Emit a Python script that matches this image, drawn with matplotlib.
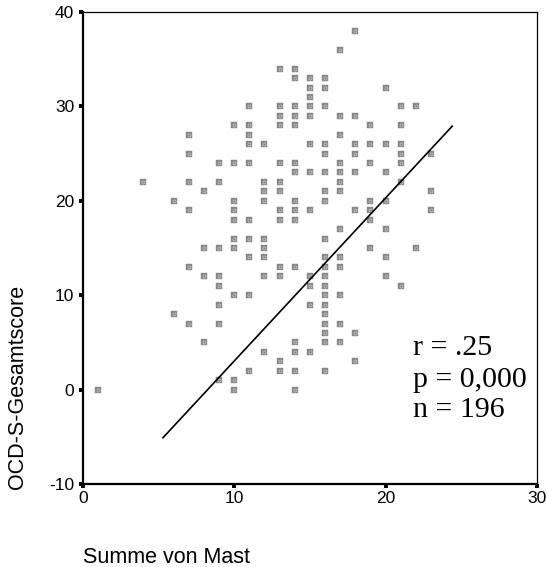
import matplotlib
matplotlib.use("Agg")
import matplotlib.pyplot as plt
import numpy as np

plt.rcParams['axes.unicode_minus'] = False

# Summe von Mast (x) and OCD-S-Gesamtscore (y)
mast = ([1] + [4] + [6]*2 + [7]*6 + [8]*4 + [9]*8 + [10]*10 + [11]*10 + [12]*9 +
        [13]*13 + [14]*15 + [15]*12 + [16]*20 + [17]*13 + [18]*8 + [19]*7 +
        [20]*7 + [21]*7 + [22]*2 + [23]*3)
ocd = ([0] +
       [22] +
       [20, 8] +
       [27, 25, 22, 19, 13, 7] +
       [21, 15, 12, 5] +
       [24, 22, 15, 12, 11, 9, 7, 1] +
       [28, 24, 20, 19, 18, 16, 15, 10, 1, 0] +
       [30, 28, 27, 26, 24, 18, 16, 14, 10, 2] +
       [26, 22, 21, 20, 16, 15, 14, 12, 4] +
       [34, 30, 29, 28, 24, 22, 21, 19, 18, 13, 12, 3, 2] +
       [34, 33, 30, 29, 28, 24, 23, 20, 19, 18, 13, 5, 4, 2, 0] +
       [33, 32, 31, 30, 29, 26, 23, 19, 12, 11, 9, 4] +
       [33, 32, 30, 26, 25, 23, 21, 20, 16, 14, 13, 12, 11, 10, 9, 8, 7, 6, 5, 2] +
       [36, 29, 27, 24, 23, 22, 21, 17, 14, 13, 10, 7, 5] +
       [38, 29, 26, 25, 23, 19, 6, 3] +
       [28, 26, 24, 20, 19, 18, 15] +
       [32, 26, 23, 20, 17, 14, 12] +
       [30, 28, 26, 25, 24, 22, 11] +
       [30, 15] +
       [25, 21, 19])

# fit line
fit_range = [5.3, 24.4]
fit_slope = 1.728
fit_intercept = -14.26

x_ticks = [0, 10, 20, 30]
y_ticks = [-10, 0, 10, 20, 30, 40]
stats_lines = ["r = .25", "p = 0,000", "n = 196"]

W, H = 547, 567
fig = plt.figure(figsize=(W/100, H/100), dpi=100)
ax = fig.add_axes([82.7/W, 1-484/H, (537-82.7)/W, (484-12)/H])

ax.plot(mast, ocd, linestyle='none', marker='s', markersize=4.8,
        markerfacecolor='#878787', markeredgecolor='#878787', markeredgewidth=0.3, zorder=3)
ax.plot(mast, ocd, linestyle='none', marker='o', markersize=2.2,
        markerfacecolor='none', markeredgecolor='#c8c8c8', markeredgewidth=0.5, zorder=4)

fx = np.array(fit_range)
ax.plot(fx, fit_intercept + fit_slope*fx, color='black', linewidth=1.2, zorder=5)

ax.set_xlim(0, 30)
ax.set_ylim(-10, 40)
ax.set_xticks(x_ticks)
ax.set_yticks(y_ticks)
for lbl in ax.get_xticklabels() + ax.get_yticklabels():
    lbl.set_fontfamily('Liberation Sans')
    lbl.set_fontsize(12.5)
ax.tick_params(direction='out', length=3, width=2.8, color='black', pad=2)
ax.tick_params(axis='y', pad=3)

ax.spines['left'].set_linewidth(1.6)
ax.spines['bottom'].set_linewidth(1.6)
ax.spines['top'].set_linewidth(0.9)
ax.spines['right'].set_linewidth(0.9)

fig.text(18/W, 1-386.5/H, "OCD-S-Gesamtscore", rotation=90, ha='center', va='center',
         fontfamily='Liberation Sans', fontsize=15.5)
fig.text(82.7/W, 1-562.7/H, "Summe von Mast", ha='left', va='baseline',
         fontfamily='Liberation Sans', fontsize=15.5)

for txt, yb in zip(stats_lines, [355, 386.7, 416.7]):
    fig.text(413/W, 1-yb/H, txt, ha='left', va='baseline',
             fontfamily='Liberation Serif', fontsize=21.5)

fig.savefig("out.png", dpi=100)
